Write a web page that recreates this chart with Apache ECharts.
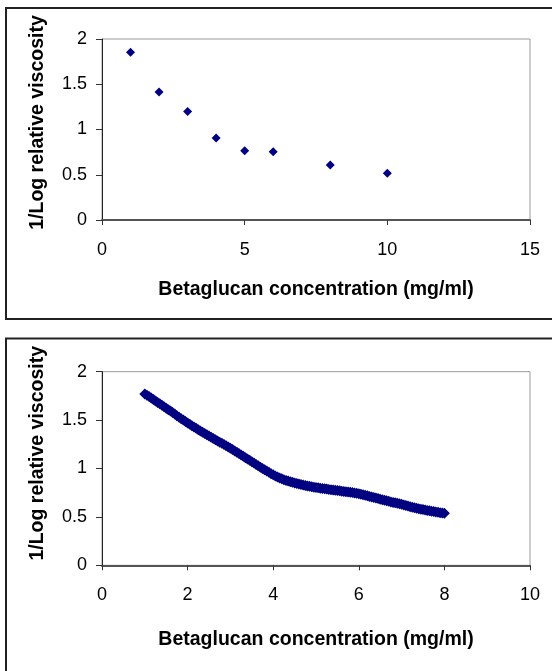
<!DOCTYPE html>
<html>
<head>
<meta charset="utf-8">
<script src="https://cdn.jsdelivr.net/npm/echarts@6/dist/echarts.min.js"></script>
<style>
html,body{margin:0;padding:0;background:#fff;}
#c{width:552px;height:671px;}
</style>
</head>
<body>
<div id="c"></div>
<script>
// Top chart data
var topX = [1, 2, 3, 4, 5, 6, 8, 10];
var topY = [1.853, 1.414, 1.20, 0.906, 0.766, 0.755, 0.608, 0.516];

// Bottom chart data
var botX = [1.00,1.05,1.10,1.15,1.20,1.25,1.30,1.35,1.40,1.45,1.50,1.55,1.60,1.65,1.70,1.75,1.80,1.85,1.90,1.95,
            2.00,2.05,2.10,2.15,2.20,2.25,2.30,2.35,2.40,2.45,2.50,2.55,2.60,2.65,2.70,2.75,2.80,2.85,2.90,2.95,
            3.00,3.05,3.10,3.15,3.20,3.25,3.30,3.35,3.40,3.45,3.50,3.55,3.60,3.65,3.70,3.75,3.80,3.85,3.90,3.95,
            4.00,4.05,4.10,4.15,4.20,4.25,4.30,4.35,4.40,4.45,4.50,4.55,4.60,4.65,4.70,4.75,4.80,4.85,4.90,4.95,
            5.00,5.05,5.10,5.15,5.20,5.25,5.30,5.35,5.40,5.45,5.50,5.55,5.60,5.65,5.70,5.75,5.80,5.85,5.90,5.95,
            6.00,6.05,6.10,6.15,6.20,6.25,6.30,6.35,6.40,6.45,6.50,6.55,6.60,6.65,6.70,6.75,6.80,6.85,6.90,6.95,
            7.00,7.05,7.10,7.15,7.20,7.25,7.30,7.35,7.40,7.45,7.50,7.55,7.60,7.65,7.70,7.75,7.80,7.85,7.90,7.95,
            8.00];
var botY = [1.770,1.757,1.743,1.728,1.713,1.698,1.683,1.668,1.653,1.638,1.623,1.608,1.593,1.578,1.562,1.546,1.530,1.515,1.500,1.485,
            1.470,1.456,1.442,1.428,1.415,1.401,1.388,1.374,1.361,1.348,1.335,1.322,1.310,1.297,1.285,1.272,1.260,1.247,1.235,1.222,
            1.210,1.196,1.182,1.168,1.154,1.140,1.126,1.112,1.098,1.084,1.070,1.056,1.042,1.028,1.014,1.000,0.987,0.973,0.960,0.947,
            0.935,0.923,0.912,0.902,0.893,0.885,0.877,0.870,0.863,0.857,0.851,0.845,0.840,0.835,0.830,0.825,0.820,0.816,0.811,0.807,
            0.803,0.800,0.796,0.793,0.790,0.787,0.784,0.781,0.778,0.775,0.772,0.769,0.766,0.763,0.760,0.757,0.754,0.751,0.748,0.744,
            0.740,0.735,0.730,0.724,0.718,0.712,0.706,0.700,0.695,0.689,0.683,0.678,0.672,0.666,0.661,0.655,0.650,0.645,0.640,0.635,
            0.630,0.624,0.618,0.612,0.606,0.600,0.595,0.590,0.585,0.580,0.576,0.571,0.567,0.563,0.559,0.555,0.551,0.547,0.544,0.540,
            0.537];

var xTitle = 'Betaglucan concentration (mg/ml)';
var yTitle = '1/Log relative viscosity';

function pairs(xs, ys){ return xs.map(function(x,i){ return [x, ys[i]]; }); }

var FONT = '"Liberation Sans", Arial, sans-serif';
var labelStyle = {color:'#000', fontSize:18, fontFamily:FONT};

function xAxis(gi, max, interval){
  return {type:'value', gridIndex:gi, min:0, max:max, interval:interval,
    axisLine:{show:true, onZero:false, lineStyle:{color:'#555', width:2}},
    axisTick:{show:true, inside:false, length:5, lineStyle:{color:'#333', width:1}},
    axisLabel:Object.assign({margin:21}, labelStyle),
    splitLine:{show:false}};
}
function yAxis(gi){
  return {type:'value', gridIndex:gi, min:0, max:2, interval:0.5,
    axisLine:{show:true, onZero:false, lineStyle:{color:'#222', width:1}},
    axisTick:{show:true, inside:false, length:6, lineStyle:{color:'#333', width:1}},
    axisLabel:Object.assign({margin:15, padding:[4,0,0,0]}, labelStyle),
    splitLine:{show:false}};
}

var chart = echarts.init(document.getElementById('c'), null, {renderer:'canvas'});
chart.setOption({
  animation:false,
  backgroundColor:'#fff',
  grid:[
    {left:102, top:39, width:428, height:181, show:true, borderColor:'#999', borderWidth:1, backgroundColor:'transparent'},
    {left:102, top:371.7, width:428, height:193.6, show:true, borderColor:'#999', borderWidth:1, backgroundColor:'transparent'}
  ],
  xAxis:[xAxis(0, 15, 5), xAxis(1, 10, 2)],
  yAxis:[yAxis(0), yAxis(1)],
  series:[
    {type:'scatter', xAxisIndex:0, yAxisIndex:0, data:pairs(topX, topY), symbol:'diamond', symbolSize:9, itemStyle:{color:'#000080', opacity:1}},
    {type:'scatter', xAxisIndex:1, yAxisIndex:1, data:pairs(botX, botY), symbol:'diamond', symbolSize:11, itemStyle:{color:'#000080', opacity:1}}
  ],
  graphic:[
    {type:'rect', shape:{x:6, y:8, width:560, height:311}, style:{fill:'none', stroke:'#222', lineWidth:2}, silent:true},
    {type:'rect', shape:{x:6, y:338.5, width:560, height:400}, style:{fill:'none', stroke:'#222', lineWidth:2}, silent:true},
    {type:'text', x:38, y:122.5, rotation:Math.PI/2, style:{text:yTitle, align:'center', verticalAlign:'middle', fontSize:19.5, fontWeight:'bold', fontFamily:FONT, fill:'#000'}},
    {type:'text', x:38, y:453.3, rotation:Math.PI/2, style:{text:yTitle, align:'center', verticalAlign:'middle', fontSize:19.5, fontWeight:'bold', fontFamily:FONT, fill:'#000'}},
    {type:'text', x:316, y:289.5, style:{text:xTitle, align:'center', verticalAlign:'middle', fontSize:19.5, fontWeight:'bold', fontFamily:FONT, fill:'#000'}},
    {type:'text', x:316, y:639.5, style:{text:xTitle, align:'center', verticalAlign:'middle', fontSize:19.5, fontWeight:'bold', fontFamily:FONT, fill:'#000'}}
  ]
});
</script>
</body>
</html>
